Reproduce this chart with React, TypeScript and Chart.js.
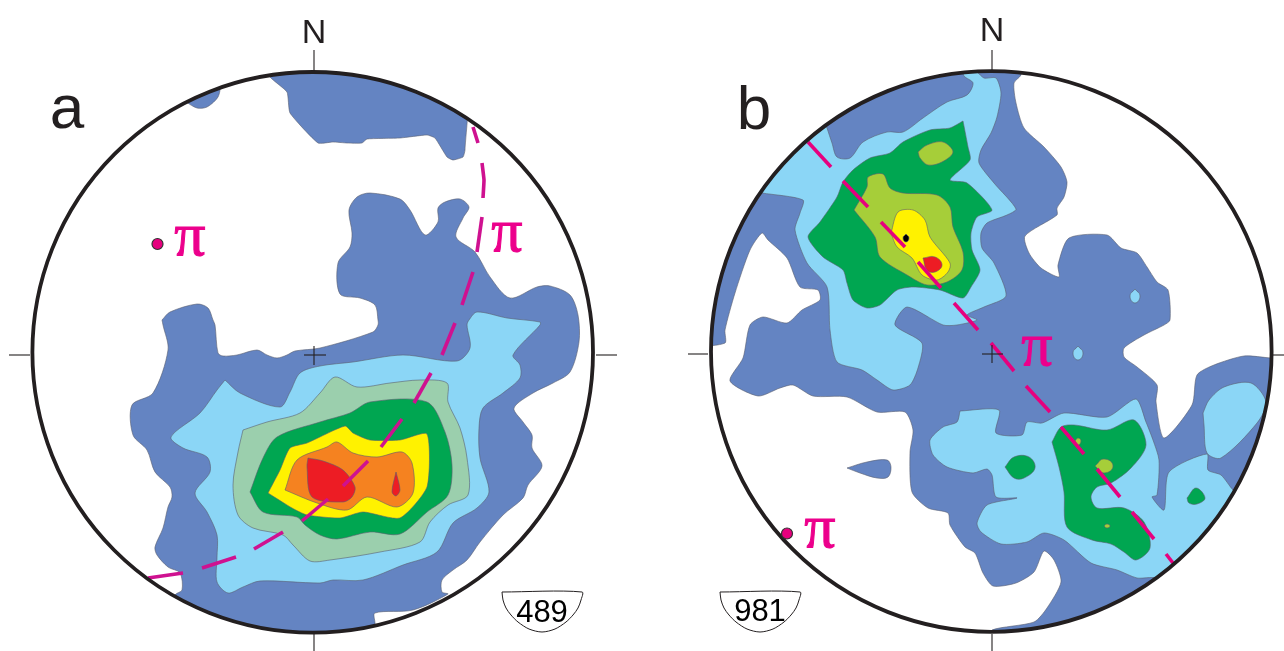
import React, { useEffect, useRef } from "react";
import { Chart, registerables } from "chart.js";

type P = [number, number];

// --- Panel a contours (net coordinates) ---
const aTopBlob: P[] = [[186,102],[197,108],[207,107],[218,97],[219,86],[190,92]];
const aTopLobe: P[] = [[270,66],[270,77],[287,92],[290,113],[318,143],[333,142],[347,143],[362,143],[367,139],[400,138],[427,135],[435,138],[447,157],[453,160],[463,157],[465,150],[465,66]];
const aBlueMain: P[] = [[162,320],[170,312],[197,304],[208,308],[213,320],[215,325],[218,353],[223,356],[237,355],[257,350],[267,355],[277,358],[287,355],[295,351],[320,348],[373,332],[378,325],[378,320],[375,305],[360,298],[340,294],[338,263],[350,247],[352,233],[349,210],[357,197],[370,193],[400,199],[410,210],[425,235],[438,222],[438,208],[445,202],[460,199],[469,207],[463,218],[456,237],[475,252],[490,277],[510,298],[537,287],[550,286],[570,295],[578,315],[579,342],[570,372],[553,383],[533,393],[514,408],[523,422],[532,435],[532,448],[542,466],[528,485],[523,498],[503,515],[480,542],[467,560],[453,570],[442,580],[442,592],[448,594],[413,610],[375,613],[375,623],[375,642],[314,646],[240,640],[175,606],[175,595],[182,590],[180,573],[168,567],[157,555],[155,547],[163,528],[168,507],[172,497],[170,487],[155,472],[147,450],[133,435],[132,405],[153,393],[168,350],[163,325]];
const aLightBlue: P[] = [[225,380],[240,393],[280,407],[290,392],[300,373],[320,366],[353,362],[403,355],[457,361],[470,348],[467,325],[469,320],[477,312],[507,318],[540,322],[540,325],[513,355],[520,365],[520,378],[503,393],[483,408],[479,428],[480,458],[489,492],[477,508],[453,523],[437,552],[403,565],[363,580],[333,580],[320,583],[260,581],[243,587],[228,593],[217,582],[217,558],[217,535],[207,512],[195,493],[210,472],[207,457],[183,448],[171,437],[200,413],[217,390]];
const aPaleGreen: P[] = [[243,430],[267,422],[300,413],[320,393],[335,377],[357,387],[390,383],[420,380],[447,383],[448,402],[460,428],[467,458],[468,495],[448,505],[430,522],[420,542],[380,552],[330,560],[310,561],[293,545],[283,535],[253,528],[238,515],[233,485],[238,452]];
const aGreen: P[] = [[250,492],[263,458],[277,437],[320,422],[350,413],[370,402],[427,402],[445,432],[452,465],[448,495],[427,512],[400,534],[370,532],[337,539],[320,535],[305,525],[297,517],[263,512]];
const aYellow: P[] = [[268,493],[280,470],[290,448],[307,443],[345,426],[353,433],[370,440],[400,440],[427,434],[427,487],[400,518],[363,512],[340,518],[307,515],[292,508]];
const aOrange: P[] = [[285,490],[297,460],[327,447],[337,442],[353,453],[377,457],[402,452],[412,463],[413,493],[397,507],[367,497],[347,510],[317,503]];
const aRed: P[] = [[308,458],[323,461],[343,470],[355,487],[352,497],[343,502],[312,497],[307,467]];
const aRedDrop: P[] = [[396,472],[400,490],[396,496],[392,492]];

// --- Panel b contours ---
const bBlueMain: P[] = [[1021,64],[1021,75],[1014,83],[1016,103],[1024,128],[1044,147],[1061,167],[1067,182],[1064,197],[1057,208],[1057,215],[1025,236],[1029,253],[1041,268],[1059,277],[1058,265],[1069,238],[1107,235],[1121,248],[1137,253],[1147,267],[1157,282],[1168,290],[1170,320],[1164,325],[1144,335],[1124,348],[1124,357],[1137,367],[1157,385],[1156,402],[1164,438],[1192,405],[1197,375],[1214,365],[1244,356],[1271,358],[1282,358],[1282,480],[1190,620],[1040,646],[992,640],[992,630],[1034,622],[1047,608],[1061,582],[1054,560],[1044,551],[1034,572],[1016,583],[993,586],[983,573],[975,553],[965,547],[950,525],[948,513],[928,508],[912,492],[910,452],[913,430],[905,412],[877,412],[847,397],[813,396],[793,385],[780,388],[758,396],[730,381],[743,358],[750,325],[763,317],[787,323],[802,310],[820,300],[818,290],[800,287],[787,258],[768,240],[762,233],[750,250],[735,293],[725,330],[725,343],[700,343],[700,200],[800,90],[900,60]];
const bLightTop: P[] = [[762,193],[803,200],[800,213],[795,230],[807,263],[827,287],[830,330],[837,362],[862,370],[877,380],[893,390],[910,385],[918,368],[922,343],[895,325],[907,307],[943,325],[957,325],[977,320],[967,315],[984,307],[1006,296],[994,263],[982,248],[981,233],[987,223],[1007,215],[1016,209],[994,183],[979,163],[981,150],[991,133],[997,117],[1001,93],[996,78],[984,78],[974,70],[900,60],[800,120],[750,180]];
const bBlueCap: P[] = [[827,128],[832,143],[837,157],[850,158],[863,142],[887,132],[903,132],[923,118],[947,102],[967,95],[973,83],[964,76],[960,66],[870,80],[820,115]];
const bBlueLower: P[] = [[847,468],[867,462],[887,460],[891,467],[888,477],[877,478],[860,473]];
const bLightLower: P[] = [[960,411],[999,410],[996,433],[1022,435],[1027,422],[1042,423],[1064,413],[1107,417],[1136,399],[1146,422],[1153,440],[1159,460],[1157,495],[1152,497],[1164,510],[1169,472],[1207,454],[1208,470],[1221,475],[1233,490],[1255,510],[1175,592],[1156,578],[1137,578],[1117,570],[1091,563],[1064,540],[1044,533],[1027,542],[1001,544],[981,532],[977,523],[987,505],[1017,498],[996,497],[992,475],[987,469],[973,473],[947,467],[933,455],[930,440],[943,427],[957,422]];
const bLightRight: P[] = [[1203,413],[1209,400],[1224,387],[1251,383],[1266,402],[1257,423],[1221,458],[1207,453],[1204,425]];
const bLightDotOne: P[] = [[1078,346],[1083,353],[1078,360],[1073,353]];
const bLightDotTwo: P[] = [[1135,289],[1140,296],[1135,303],[1130,296]];
const bGreenTop: P[] = [[963,121],[968,147],[970,160],[950,180],[967,183],[992,210],[977,217],[971,233],[972,250],[980,270],[971,287],[963,298],[940,290],[913,287],[897,290],[880,305],[867,308],[853,300],[847,283],[843,270],[823,257],[808,237],[820,222],[837,197],[843,182],[853,170],[870,158],[890,153],[903,142],[930,130],[950,128]];
const bOliveSmall: P[] = [[918,152],[927,145],[943,142],[953,152],[942,162],[928,165],[920,158]];
const bOlive: P[] = [[854,210],[867,187],[868,177],[883,174],[890,188],[903,193],[937,195],[950,207],[953,227],[963,252],[962,270],[947,282],[927,285],[907,275],[880,257],[875,237]];
const bYellow: P[] = [[891,233],[898,212],[913,210],[925,220],[930,237],[950,263],[948,272],[937,280],[922,275],[912,258],[897,247]];
const bRed: P[] = [[923,258],[935,257],[942,265],[935,272],[927,270]];
const bBlackDot: P[] = [[906,234],[909,238],[906,242],[903,238]];
const bGreenLower: P[] = [[1052,442],[1061,427],[1074,425],[1107,430],[1134,420],[1146,445],[1131,468],[1111,483],[1097,487],[1091,497],[1097,508],[1124,508],[1144,522],[1150,548],[1136,560],[1124,552],[1111,544],[1092,540],[1067,527],[1064,492],[1059,467]];
const bGreenSmallLeft: P[] = [[1005,467],[1014,457],[1029,457],[1035,468],[1024,478],[1014,478]];
const bGreenSmallRight: P[] = [[1187,498],[1196,488],[1205,498],[1197,504],[1189,503]];
const bOliveDotOne: P[] = [[1095,466],[1104,459],[1113,466],[1104,473]];
const bOliveDotTwo: P[] = [[1075,441],[1078,438],[1081,441],[1078,445]];
const bOliveDotThree: P[] = [[1104,526],[1107,524],[1110,526],[1107,528]];

// --- π great circles, one entry per dash ---
const aPiDashes: P[][] = [
  [[473,127],[478,143]],
  [[482,163],[484,180],[483,198]],
  [[482,217],[477,252]],
  [[473,272],[462,305]],
  [[455,323],[442,355]],
  [[431,373],[414,403]],
  [[402,419],[381,447]],
  [[368,461],[343,486]],
  [[328,499],[302,521]],
  [[283,532],[254,549]],
  [[236,557],[202,568]],
  [[183,573],[148,578]],
];
const bPiDashes: P[][] = [
  [[808,142],[831,167]],
  [[843,181],[868,207]],
  [[881,222],[905,247]],
  [[918,262],[941,288]],
  [[954,303],[978,330]],
  [[991,343],[1014,371]],
  [[1026,386],[1050,412]],
  [[1061,427],[1084,454]],
  [[1097,469],[1120,497]],
  [[1132,512],[1154,539]],
  [[1166,554],[1173,563]],
];

// --- Frame ---
const netCentres: P[] = [[312.7,352.3],[991.3,351.5]];
const poleMarkers: P[] = [[157.5,244],[787,533.5]];
const aTicks: P[][] = [
  [[314,50],[314,72]],[[314,634],[314,651]],[[9,355],[30,355]],[[596,355],[617,355]],
  [[304,355],[326,355]],[[314,346],[314,365]],
];
const bTicks: P[][] = [
  [[992,50],[992,71]],[[992,634],[992,651]],[[688,354],[708,354]],[[1273,355],[1284,355]],
  [[982,354],[1003,354]],[[992,345],[992,363]],
];
const aCountShape: P[] = [[502,592],[582,592],[581,600],[578,608],[573,615],[566,622],[555,629],[542,632],[529,629],[518,622],[511,615],[506,608],[503,600],[502,592]];
const bCountShape: P[] = [[720,592],[800,592],[799,600],[796,608],[791,615],[784,622],[773,629],[760,632],[747,629],[736,622],[729,615],[724,608],[721,600],[720,592]];

// --- Text ---
const panelLabels = ["a", "b"];
const northLabel = "N";
const piLabel = "π";
const countLabels = ["489", "981"];

const BLUE = "#6484c2", SKY = "#8bd6f6", PALE = "#9bcfad", GREEN = "#00a651",
  YELLOW = "#fff200", ORANGE = "#f58220", RED = "#ed1c24", OLIVE = "#a6ce39";
const PINK_TEXT = "#ec008c", PINK_A = "#cf1190", PINK_B = "#e6007e", INK = "#231f20";
const NET_RADIUS = 280.3;

const toXY = (pts: P[]) => pts.map(([x, y]) => ({ x, y }));

const shape = (pts: P[], color: string, net: number, tension = 0.3) => ({
  type: "line",
  data: toXY([...pts, pts[0]]),
  backgroundColor: color,
  borderColor: "#5a6070",
  borderWidth: 0.6,
  fill: "shape",
  tension,
  pointRadius: 0,
  clip: false,
  net,
});

const stroke = (pts: P[], color: string, width: number, net?: number) => ({
  type: "line",
  data: toXY(pts),
  borderColor: color,
  borderWidth: width,
  fill: false,
  tension: 0.1,
  pointRadius: 0,
  clip: false,
  net,
});

const circleMark = (p: P, radius: number, fillColor: string, lineColor: string, lineWidth: number) => ({
  type: "line",
  data: toXY([p]),
  showLine: false,
  pointRadius: radius,
  pointHoverRadius: radius,
  pointBackgroundColor: fillColor,
  pointBorderColor: lineColor,
  pointBorderWidth: lineWidth,
  clip: false,
});

const netClip = {
  id: "netClip",
  beforeDatasetDraw(chart: any, args: any) {
    const net = chart.data.datasets[args.index].net;
    if (net === undefined) return;
    const { ctx, scales } = chart;
    const [cx, cy] = netCentres[net];
    ctx.save();
    ctx.beginPath();
    ctx.arc(scales.x.getPixelForValue(cx), scales.y.getPixelForValue(cy), NET_RADIUS, 0, Math.PI * 2);
    ctx.clip();
  },
  afterDatasetDraw(chart: any, args: any) {
    if (chart.data.datasets[args.index].net !== undefined) chart.ctx.restore();
  },
};

const labelsPlugin = {
  id: "labels",
  afterDatasetsDraw(chart: any) {
    const { ctx, scales } = chart;
    const put = (t: string, x: number, y: number, font: string, color: string, outline = 0) => {
      ctx.font = font;
      ctx.fillStyle = color;
      ctx.textAlign = "center";
      ctx.textBaseline = "alphabetic";
      const px = scales.x.getPixelForValue(x);
      const py = scales.y.getPixelForValue(y);
      ctx.fillText(t, px, py);
      if (outline) {
        ctx.strokeStyle = color;
        ctx.lineWidth = outline;
        ctx.strokeText(t, px, py);
      }
    };
    ctx.save();
    const sans = '"Liberation Sans", Arial, sans-serif';
    const serif = '"Liberation Serif", serif';
    put(panelLabels[0], 67, 128, `62px ${sans}`, INK);
    put(panelLabels[1], 754, 129, `62px ${sans}`, INK);
    put(northLabel, 314, 43, `34px ${sans}`, INK);
    put(northLabel, 992, 41, `34px ${sans}`, INK);
    put(piLabel, 190, 255, `62px ${serif}`, PINK_TEXT, 1);
    put(piLabel, 507, 251, `62px ${serif}`, PINK_TEXT, 1);
    put(piLabel, 820, 547, `62px ${serif}`, PINK_TEXT, 1);
    put(piLabel, 1037, 365, `62px ${serif}`, PINK_TEXT, 1);
    put(countLabels[0], 542, 622, `31px ${sans}`, "#000000");
    put(countLabels[1], 760, 621, `31px ${sans}`, "#000000");
    ctx.restore();
  },
};

Chart.register(netClip);
Chart.register(...registerables);

export default function App() {
  const ref = useRef<HTMLCanvasElement>(null);
  useEffect(() => {
    document.body.style.margin = "0";
    const paintOrder: any[] = [
      shape(aTopBlob, BLUE, 0),
      shape(aTopLobe, BLUE, 0, 0.15),
      shape(aBlueMain, BLUE, 0),
      shape(aLightBlue, SKY, 0),
      shape(aPaleGreen, PALE, 0),
      shape(aGreen, GREEN, 0),
      shape(aYellow, YELLOW, 0, 0.2),
      shape(aOrange, ORANGE, 0),
      shape(aRed, RED, 0),
      shape(aRedDrop, RED, 0, 0.3),
      ...aPiDashes.map((d) => stroke(d, PINK_A, 3.6, 0)),
      shape(bBlueMain, BLUE, 1, 0.24),
      shape(bLightTop, SKY, 1, 0.24),
      shape(bBlueCap, BLUE, 1),
      shape(bBlueLower, BLUE, 1, 0.35),
      shape(bLightLower, SKY, 1, 0.24),
      shape(bLightRight, SKY, 1),
      shape(bLightDotOne, SKY, 1, 0.55),
      shape(bLightDotTwo, SKY, 1, 0.55),
      shape(bGreenTop, GREEN, 1, 0.24),
      shape(bOliveSmall, OLIVE, 1, 0.35),
      shape(bOlive, OLIVE, 1),
      shape(bYellow, YELLOW, 1),
      shape(bRed, RED, 1, 0.45),
      shape(bBlackDot, "#000000", 1, 0.55),
      shape(bGreenLower, GREEN, 1),
      shape(bGreenSmallLeft, GREEN, 1, 0.4),
      shape(bGreenSmallRight, GREEN, 1, 0.4),
      shape(bOliveDotOne, OLIVE, 1, 0.55),
      shape(bOliveDotTwo, OLIVE, 1, 0.55),
      shape(bOliveDotThree, OLIVE, 1, 0.55),
      ...bPiDashes.map((d) => stroke(d, PINK_B, 3.6, 1)),
      ...aTicks.map((d) => stroke(d, INK, 1.1)),
      ...bTicks.map((d) => stroke(d, INK, 1.1)),
      { ...stroke(aCountShape, INK, 1), tension: 0.3 },
      { ...stroke(bCountShape, INK, 1), tension: 0.3 },
      ...netCentres.map((c) => circleMark(c, NET_RADIUS, "rgba(0,0,0,0)", INK, 3.8)),
      ...poleMarkers.map((p) => circleMark(p, 5.5, PINK_B, "#333333", 1.2)),
    ];
    // Chart.js paints the first dataset last, so the list is reversed.
    const datasets = paintOrder.reverse();
    const chart = new Chart(ref.current!, {
      type: "line",
      data: { datasets },
      plugins: [labelsPlugin],
      options: {
        animation: false,
        responsive: false,
        parsing: { xAxisKey: "x", yAxisKey: "y" },
        layout: { padding: 0, autoPadding: false },
        events: [],
        scales: {
          x: { type: "linear", min: 0, max: 1284, display: false },
          y: { type: "linear", min: 0, max: 651, reverse: true, display: false },
        },
        plugins: { legend: { display: false }, tooltip: { enabled: false } },
      },
    } as any);
    return () => chart.destroy();
  }, []);
  return (
    <canvas
      ref={ref}
      width={1284}
      height={651}
      style={{ position: "absolute", left: 0, top: 0, display: "block" }}
    />
  );
}
